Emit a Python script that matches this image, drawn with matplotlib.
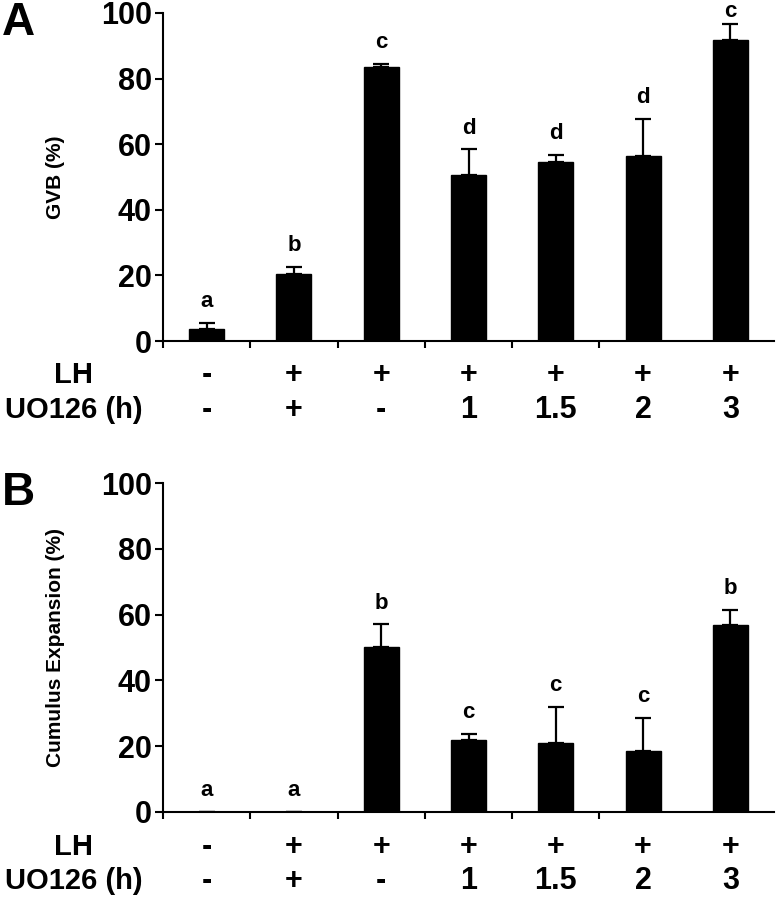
import numpy as np
import matplotlib
matplotlib.use('Agg')
import matplotlib.pyplot as plt

# Datos
grupos = ['1', '2', '3', '4', '5', '6', '7']
lh_fila = ['-', '+', '+', '+', '+', '+', '+']
uo_fila = ['-', '+', '-', '1', '1.5', '2', '3']

gvb_media = [3.6, 20.4, 83.5, 50.7, 54.6, 56.4, 91.8]
gvb_error = [1.8, 2.2, 0.9, 7.7, 2.2, 11.4, 4.8]
gvb_letras = ['a', 'b', 'c', 'd', 'd', 'd', 'c']

ce_media = [0, 0, 50.2, 21.9, 20.9, 18.4, 56.7]
ce_error = [0, 0, 6.8, 1.8, 11.0, 10.1, 4.7]
ce_letras = ['a', 'a', 'b', 'c', 'c', 'c', 'b']

plt.rcParams['font.family'] = 'Liberation Sans'

fig = plt.figure(figsize=(7.76, 9.0), dpi=100)
ax_a = fig.add_axes([0.210, 0.6211, 0.7875, 0.3645])
ax_b = fig.add_axes([0.210, 0.0978, 0.7875, 0.3655])


def dibujar_panel(ax, medias, errores, letras, ylabel, letra_panel):
    x = np.arange(len(medias))
    ax.bar(x, medias, width=0.40, color='black', edgecolor='black', zorder=2)
    ax.errorbar(x, medias, yerr=[np.zeros(len(errores)), errores], fmt='none',
                ecolor='black', elinewidth=1.6, capsize=6, capthick=1.6, zorder=1)
    for xi, m, e, l in zip(x, medias, errores, letras):
        ax.text(xi, min(m + e + 6.5, 100.3), l, ha='center', va='center',
                fontsize=16, fontweight='bold')

    ax.set_xlim(-0.5, len(medias) - 0.5)
    ax.set_ylim(0, 100)
    ax.set_yticks([0, 20, 40, 60, 80, 100])
    ax.set_yticklabels(['0', '20', '40', '60', '80', '100'],
                       fontsize=22, fontweight='bold')
    ax.set_xticks(np.arange(len(medias) - 1) - 0.5)
    ax.set_xticklabels([])
    ax.tick_params(axis='y', direction='out', length=6, width=1.5, pad=2)
    ax.tick_params(axis='x', direction='out', length=5, width=1.5)
    for lado in ['top', 'right']:
        ax.spines[lado].set_visible(False)
    for lado in ['left', 'bottom']:
        ax.spines[lado].set_linewidth(1.5)
    ax.set_ylabel(ylabel, fontsize=15, fontweight='bold', labelpad=26)

    # filas de tratamiento bajo el eje
    trans = ax.get_xaxis_transform()
    for xi, lh, uo in zip(x, lh_fila, uo_fila):
        ax.text(xi, -0.105, lh, transform=trans, ha='center', va='center',
                fontsize=22, fontweight='bold')
        ax.text(xi, -0.21, uo, transform=trans, ha='center', va='center',
                fontsize=22, fontweight='bold')

    pos = ax.get_position()
    fig.text(0.095, pos.y0 - 0.105 * pos.height, 'LH', ha='center', va='center',
             fontsize=21, fontweight='bold')
    fig.text(0.095, pos.y0 - 0.21 * pos.height, 'UO126 (h)', ha='center', va='center',
             fontsize=21, fontweight='bold')
    fig.text(0.024, pos.y1 - 0.011, letra_panel, ha='center', va='center',
             fontsize=33, fontweight='bold')


dibujar_panel(ax_a, gvb_media, gvb_error, gvb_letras, 'GVB (%)', 'A')
dibujar_panel(ax_b, ce_media, ce_error, ce_letras, 'Cumulus Expansion (%)', 'B')

fig.savefig('out.png', dpi=100)
